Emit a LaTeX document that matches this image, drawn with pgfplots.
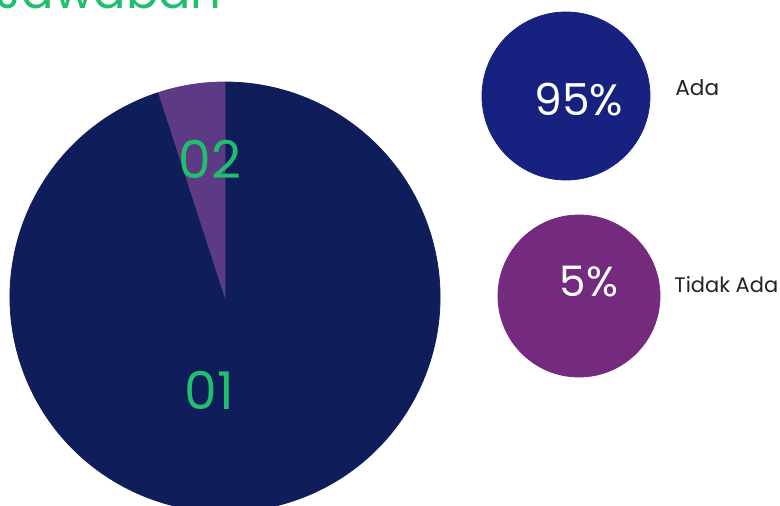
\documentclass[border=0pt]{standalone}
\usepackage{pgfplots}
\pgfplotsset{compat=1.18}
\usepackage{pgfplotstable}
\usepackage{fontspec}
\setmainfont{Poppins}

\definecolor{pienavy}{HTML}{0F1D5A}
\definecolor{piepurple}{HTML}{5C3A84}
\definecolor{dotnavy}{HTML}{172180}
\definecolor{dotpurple}{HTML}{742B7D}
\definecolor{jgreen}{HTML}{1FBF6E}
\definecolor{lbl}{HTML}{222222}

% pie slices: centre (px), share (%), start angle
\pgfplotstableread{
x y val start
225 208 95 108
}\sliceA
\pgfplotstableread{
x y val start
225 208 5 90
}\sliceB

% side bubbles: centre (px), share (%)
\pgfplotstableread{
x y val
566 409 95
}\dotA
\pgfplotstableread{
x y val
579 209 5
}\dotB

\pgfplotsset{
  pie slice/.style={
    scatter, only marks, mark=*, mark size=0pt,
    visualization depends on={\thisrow{val} \as \val},
    visualization depends on={\thisrow{start} \as \st},
    scatter/@pre marker code/.code={
      \pgfmathsetmacro\en{\st+3.6*\val}
      \fill[#1] (0,0) -- (\st:107.5pt) arc[start angle=\st, end angle=\en, radius=107.5pt] -- cycle;
    },
    scatter/@post marker code/.code={},
  },
  bubble/.style={
    only marks, mark=*, color=#1,
    point meta=explicit,
    nodes near coords={\pgfmathprintnumber{\pgfplotspointmeta}\%},
  },
}

\begin{document}
\begin{tikzpicture}
\begin{axis}[
    scale only axis,
    width=390pt, height=252.5pt,
    xmin=0, xmax=780, ymin=0, ymax=505,
    axis lines=none,
    clip=false,
    /pgf/number format/assume math mode=true,
]
  \coordinate (bl) at (axis cs:0,0);
  \coordinate (tr) at (axis cs:780,505);
  \coordinate (l01) at (axis cs:209,115);
  \coordinate (l02) at (axis cs:210,346);

  \addplot[pie slice=pienavy] table[x=x, y=y] {\sliceA};
  \addplot[pie slice=piepurple] table[x=x, y=y] {\sliceB};

  \addplot[bubble=dotnavy, mark size=42pt,
    every node near coord/.style={anchor=center, inner sep=0pt, text=white,
      font=\fontsize{22pt}{26pt}\selectfont, xshift=6.5pt, yshift=-2pt}]
    table[x=x, y=y, meta=val] {\dotA};
  \addplot[bubble=dotpurple, mark size=40.5pt,
    every node near coord/.style={anchor=center, inner sep=0pt, text=white,
      font=\fontsize{21pt}{25pt}\selectfont, xshift=5pt, yshift=7pt}]
    table[x=x, y=y, meta=val] {\dotB};

  \node[anchor=west, inner sep=0pt, text=lbl, font=\fontsize{10.8pt}{13pt}\selectfont]
    at (axis cs:675,417) {Ada};
  \node[anchor=west, inner sep=0pt, text=lbl, font=\fontsize{10.5pt}{13pt}\selectfont]
    at (axis cs:674,220) {Tidak Ada};

  \node[anchor=base west, inner sep=0pt, text=jgreen, font=\fontsize{24pt}{28pt}\selectfont]
    at (axis cs:-4,496) {Jawaban};
\end{axis}
\node[inner sep=0pt, text=jgreen, font=\fontsize{26pt}{30pt}\selectfont] at (l01) {01};
\node[inner sep=0pt, text=jgreen, font=\fontsize{26pt}{30pt}\selectfont] at (l02) {02};
\pgfresetboundingbox
\path[use as bounding box] (bl) rectangle (tr);
\end{tikzpicture}
\end{document}
